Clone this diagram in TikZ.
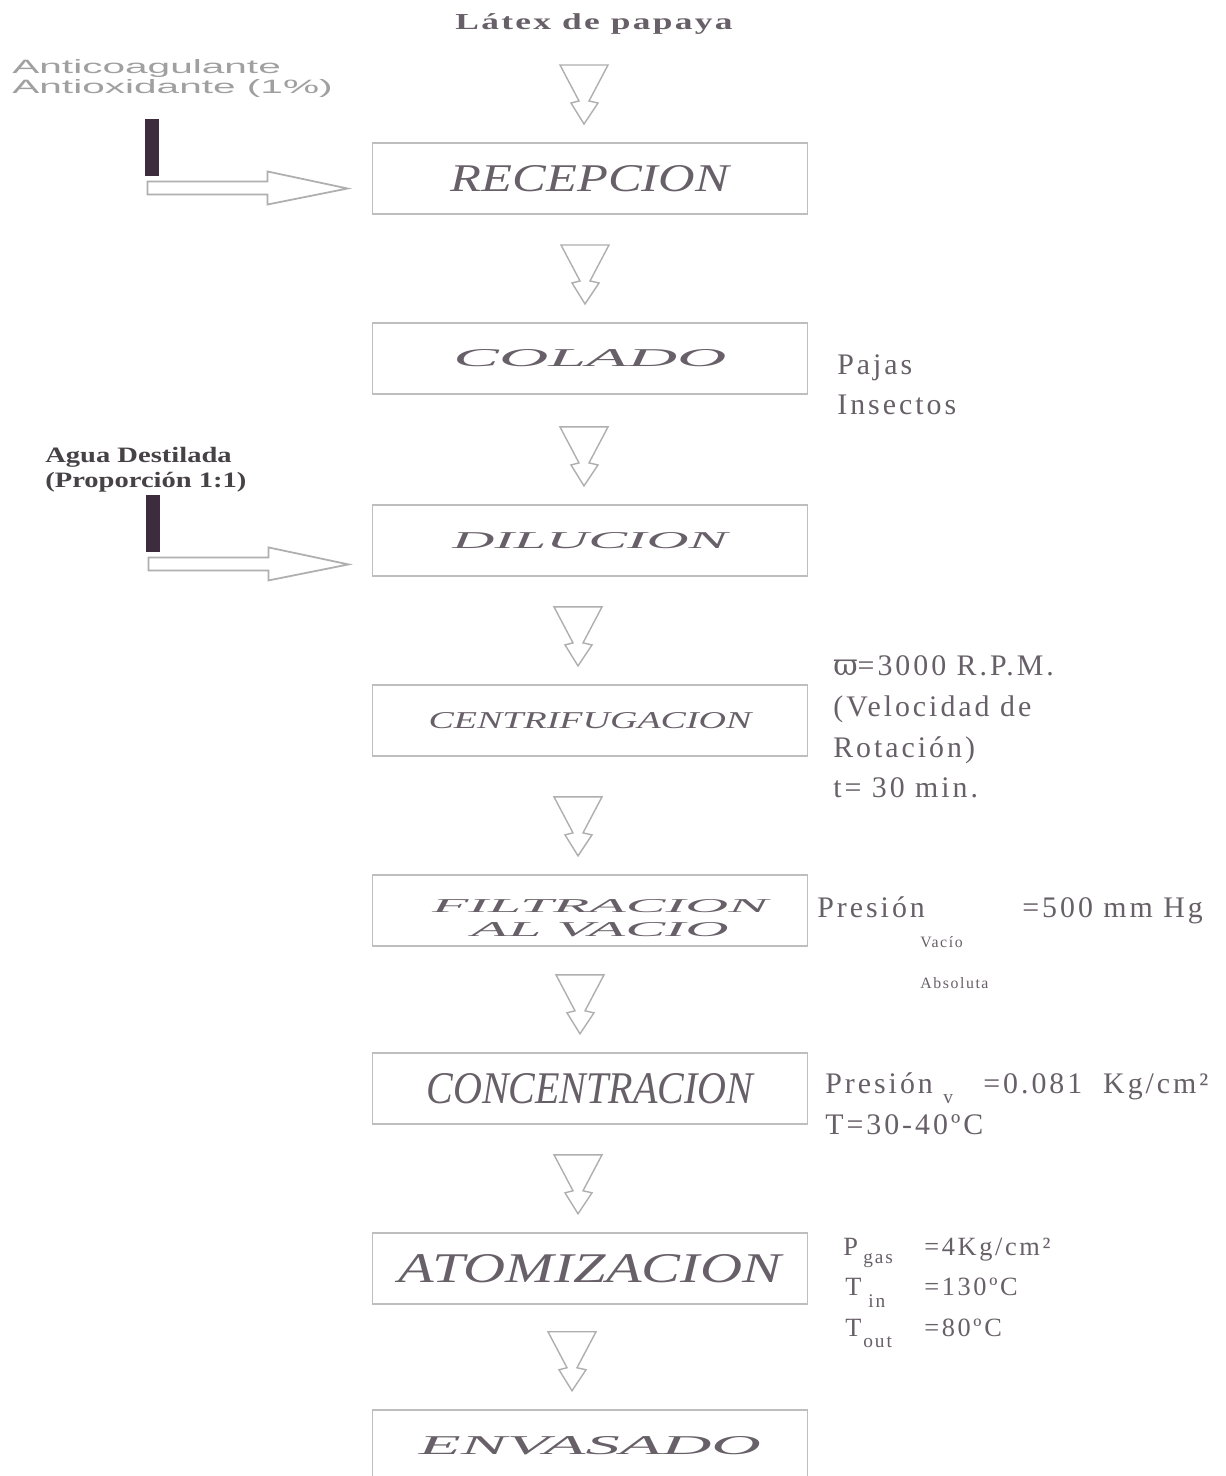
\documentclass[tikz,border=0pt]{standalone}
\usepackage{fontspec}
\usepackage{graphicx}
\usepackage{tikz}
\usetikzlibrary{positioning}
\setmainfont{Liberation Serif}
\newfontfamily\sidefont[LetterSpace=10]{Liberation Serif}
\newfontfamily\titlefont[FakeStretch=1.55,LetterSpace=10]{Liberation Serif}
\newfontfamily\anticofont[FakeStretch=2.1]{Liberation Sans}
\newfontfamily\aguafont[FakeStretch=1.3]{Liberation Serif}
\newfontfamily\greekfont{DejaVu Serif}
\definecolor{inkgray}{RGB}{104,96,104}
\definecolor{boxgray}{RGB}{190,190,190}
\definecolor{arwgray}{RGB}{175,175,175}
\definecolor{palegray}{RGB}{160,160,160}
\definecolor{bardark}{RGB}{60,44,62}
\definecolor{aguagray}{RGB}{70,66,70}
\newlength\pxu
\setlength\pxu{0.02cm}
% box label stretched to the width and cap height it has in the chart
\newcommand{\stepname}[3]{\resizebox{#1\pxu}{#2\pxu}{\itshape #3}}
\tikzset{
  stepbox/.style={
    rectangle, draw=boxgray, line width=0.9pt, minimum width=8.7cm,
    minimum height=1.42cm, inner sep=0pt, outer sep=0pt, text=inkgray
  },
  downarw/.style={draw=arwgray, line width=0.8pt, line join=miter},
  feedarw/.style={draw=arwgray, line width=1pt},
  sidetxt/.style={inner sep=0pt, anchor=base west, text=inkgray,
    font=\sidefont\fontsize{17}{23}\selectfont},
  atomtxt/.style={sidetxt, font=\sidefont\fontsize{15}{20}\selectfont},
  smalltxt/.style={sidetxt, font=\sidefont\fontsize{9}{11}\selectfont},
  subtxt/.style={sidetxt, font=\sidefont\fontsize{11}{13}\selectfont}
}
\begin{document}
\begin{tikzpicture}[x=0.02cm, y=-0.02cm]
        \fill[white] (0,0) rectangle (1225,1476);
        \useasboundingbox (0,0) rectangle (1225,1476);
        \node[inner sep=0pt, text=inkgray,
              font=\titlefont\bfseries\fontsize{13}{15}\selectfont] (latex) at (594,24) {Látex de papaya};
        \node[stepbox] (recep) at (590,178.5) {\stepname{278}{26}{RECEPCION}};
        \node[stepbox, below=2.18cm of recep]  (colado) {\stepname{273}{17}{COLADO}};
        \node[stepbox, below=2.22cm of colado] (dilu)   {\stepname{275}{16}{DILUCION}};
        \node[stepbox, below=2.18cm of dilu]   (centri) {\stepname{323}{16}{CENTRIFUGACION}};
        \node[stepbox, below=2.38cm of centri, align=center,
              font=\fontsize{10}{13.6}\selectfont] (filtra) {\hspace*{20\pxu}\rule{0pt}{16.4pt}\stepname{336}{13}{FILTRACION}\\\hspace*{20\pxu}\stepname{257}{14}{AL VACIO}};
        \node[stepbox, below=2.14cm of filtra] (conc)   {\stepname{327}{30}{CONCENTRACION}};
        \node[stepbox, below=2.18cm of conc]   (atom)   {\stepname{382}{28}{ATOMIZACION}};
        \node[stepbox, below=2.12cm of atom]   (envas)  {\stepname{342}{18}{ENVASADO}};
        % hollow arrows above each step
        \foreach \b/\dx in {recep/-6,colado/-5,dilu/-6,centri/-12,filtra/-12,conc/-10,atom/-12,envas/-18}
          \draw[downarw] ([shift={(\dx,-78)}]\b.north) ++(-24,0) -- ++(48,0) -- ++(-19,36) -- ++(9,2)
            -- ++(-14,21) -- ++(-13,-21) -- ++(8,-2) -- cycle;
        % side feeds
        \coordinate (tipA) at ([shift={(-25,10)}]recep.west);
        \coordinate (tipB) at ([shift={(-24,24)}]dilu.west);
        \foreach \t in {tipA,tipB}{
          \draw[feedarw] (\t) -- ++(-80,-17) -- ++(0,10) -- ++(-120,0) -- ++(0,13) -- ++(120,0) -- ++(0,10) -- cycle;
          \fill[bardark] ([shift={(-203,-69)}]\t) rectangle ++(14,57);
        }
        \node[font=\anticofont\fontsize{11}{11.3}\selectfont, text=palegray, align=left,
              anchor=north west, inner sep=0pt] (antico) at (12,59) {Anticoagulante\\Antioxidante (1\%)};
        \node[font=\aguafont\bfseries\fontsize{12.5}{14}\selectfont, text=aguagray, align=left,
              anchor=north west, inner sep=0pt] (agua) at (45,447) {Agua Destilada\\(Proporción 1:1)};
        % conditions at the right
        \node[sidetxt] (paja)   at (837,375)  {Pajas};
        \node[sidetxt] (insec)  at (837,415)  {Insectos};
        \node[sidetxt] (rpm)    at (833,675)  {{\greekfont ϖ}=3000 R.P.M.};
        \node[sidetxt] (veloc)  at (833,716)  {(Velocidad de};
        \node[sidetxt] (rotac)  at (833,757)  {Rotación)};
        \node[sidetxt] (tiempo) at (833,797)  {t= 30 min.};
        \node[sidetxt] (pfilt)  at (817,917)  {Presión};
        \node[sidetxt] (vfilt)  at (1022,917) {=500 mm Hg};
        \node[smalltxt] (vacio) at (920,947)  {Vacío};
        \node[smalltxt] (absol) at (920,988)  {Absoluta};
        \node[sidetxt] (pconc)  at (825,1093) {Presión};
        \node[subtxt]  (vsub)   at (943,1103) {v};
        \node[sidetxt] (vconc)  at (983,1093) {=0.081\ \ Kg/cm²};
        \node[sidetxt] (tconc)  at (825,1134) {T=30-40ºC};
        \node[atomtxt] (pgas)   at (843,1255) {P};
        \node[subtxt]  (gas)    at (863,1263) {gas};
        \node[atomtxt] (vgas)   at (924,1255) {=4Kg/cm²};
        \node[atomtxt] (tin)    at (845,1295) {T};
        \node[subtxt]  (insub)  at (868,1307) {in};
        \node[atomtxt] (vin)    at (924,1295) {=130ºC};
        \node[atomtxt] (tout)   at (845,1336) {T};
        \node[subtxt]  (outsub) at (863,1347) {out};
        \node[atomtxt] (vout)   at (924,1336) {=80ºC};
      \end{tikzpicture}
\end{document}
